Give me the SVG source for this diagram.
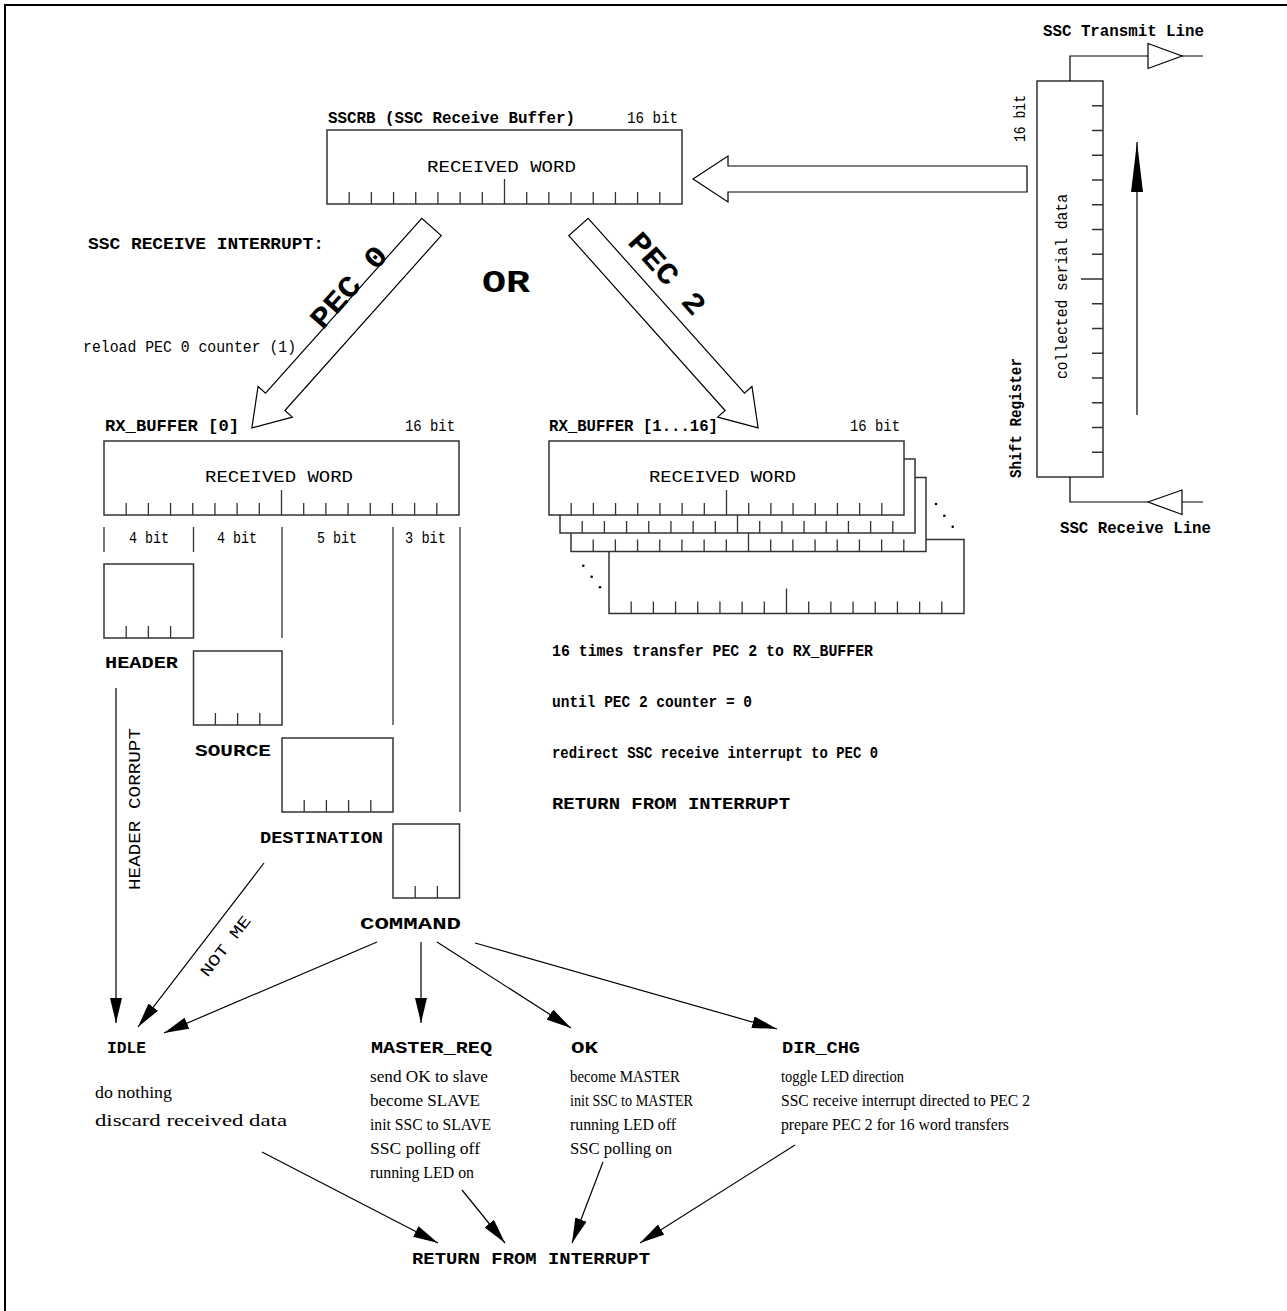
<svg xmlns="http://www.w3.org/2000/svg" width="1287" height="1311" viewBox="0 0 1287 1311">
<style>
.b{font-family:"Liberation Mono",monospace;font-weight:bold;font-size:17px;fill:#000}
.r{font-family:"Liberation Mono",monospace;font-size:16px;fill:#000}
.t{font-family:"Liberation Serif",serif;font-size:17px;fill:#000}
.box{fill:#fff;stroke:#333;stroke-width:1.5}
.tk{stroke:#333;stroke-width:1.3;fill:none}
.ln{stroke:#000;stroke-width:1.2;fill:none}
.ha{fill:#fff;stroke:#000;stroke-width:1.2}
</style>
<defs>
<marker id="ah" markerUnits="userSpaceOnUse" markerWidth="26" markerHeight="12" refX="25" refY="6" orient="auto"><path d="M0,0 L25,6 L0,12 z" fill="#000"/></marker>
<marker id="ah2" markerUnits="userSpaceOnUse" markerWidth="50" markerHeight="12" refX="50" refY="6" orient="auto"><path d="M0,0 L50,6 L0,12 z" fill="#000"/></marker>
<g id="reg">
<rect class="box" x="0" y="0" width="355" height="74"/>
<path class="tk" d="M22.19,74V62 M44.38,74V62 M66.56,74V62 M88.75,74V62 M110.94,74V62 M133.13,74V62 M155.31,74V62 M177.5,74V49 M199.69,74V62 M221.88,74V62 M244.06,74V62 M266.25,74V62 M288.44,74V62 M310.63,74V62 M332.81,74V62"/>
</g>
</defs>
<rect x="0" y="0" width="1287" height="1311" fill="#fff"/>
<g id="frame"><path d="M5,1311 V5 H1287" fill="none" stroke="#000" stroke-width="2"/></g>

<g id="sscrb">
<text class="b" x="328" y="123" textLength="247" lengthAdjust="spacingAndGlyphs">SSCRB (SSC Receive Buffer)</text>
<text class="r" x="627" y="123" textLength="51" lengthAdjust="spacingAndGlyphs">16 bit</text>
<use href="#reg" x="327" y="130"/>
<text class="r" x="427" y="172" textLength="149" lengthAdjust="spacingAndGlyphs">RECEIVED WORD</text>
</g>

<g id="shiftreg">
<rect class="box" x="1037" y="81" width="66" height="396"/>
<path class="tk" d="M1103,105.75H1092 M1103,130.5H1092 M1103,155.25H1092 M1103,180H1092 M1103,204.75H1092 M1103,229.5H1092 M1103,254.25H1092 M1103,279H1081 M1103,303.75H1092 M1103,328.5H1092 M1103,353.25H1092 M1103,378H1092 M1103,402.75H1092 M1103,427.5H1092 M1103,452.25H1092"/>
<text class="r" transform="translate(1025,142) rotate(-90)" textLength="47" lengthAdjust="spacingAndGlyphs">16 bit</text>
<text class="r" transform="translate(1067,379) rotate(-90)" textLength="185" lengthAdjust="spacingAndGlyphs">collected serial data</text>
<text class="b" transform="translate(1021,478) rotate(-90)" textLength="120" lengthAdjust="spacingAndGlyphs">Shift Register</text>
<path class="ln" d="M1070,81V56H1148 M1182,56H1203 M1070,477V502H1148 M1182,502H1203"/>
<path class="ln" d="M1148,43.5L1182,56L1148,68.5z M1148,502L1182,490L1182,514.5z"/>
<text class="b" x="1043" y="36" textLength="161" lengthAdjust="spacingAndGlyphs">SSC Transmit Line</text>
<text class="b" x="1060" y="533" textLength="151" lengthAdjust="spacingAndGlyphs">SSC Receive Line</text>
</g>

<g id="interrupt-label">
<text class="b" x="88" y="249" textLength="236" lengthAdjust="spacingAndGlyphs">SSC RECEIVE INTERRUPT:</text>
<text class="r" x="83" y="352" textLength="213" lengthAdjust="spacingAndGlyphs">reload PEC 0 counter (1)</text>
<text class="b" x="482" y="292" style="font-size:32px" textLength="48" lengthAdjust="spacingAndGlyphs">OR</text>
</g>

<g id="rxbuf0">
<text class="b" x="105" y="431" textLength="134" lengthAdjust="spacingAndGlyphs">RX_BUFFER [0]</text>
<text class="r" x="405" y="431" textLength="50" lengthAdjust="spacingAndGlyphs">16 bit</text>
<use href="#reg" x="104" y="441"/>
<text class="r" x="205" y="482" textLength="148" lengthAdjust="spacingAndGlyphs">RECEIVED WORD</text>
<path class="tk" d="M104,527V552 M193.5,527V552 M282,527V638 M393,527V725 M460,527V812"/>
<text class="r" x="129" y="543" textLength="40" lengthAdjust="spacingAndGlyphs">4 bit</text>
<text class="r" x="217" y="543" textLength="40" lengthAdjust="spacingAndGlyphs">4 bit</text>
<text class="r" x="317" y="543" textLength="40" lengthAdjust="spacingAndGlyphs">5 bit</text>
<text class="r" x="405" y="543" textLength="41" lengthAdjust="spacingAndGlyphs">3 bit</text>
</g>

<g id="header">
<rect class="box" x="104" y="564" width="89.5" height="74"/>
<path class="tk" d="M126.2,638V626 M148.4,638V626 M170.6,638V626"/>
<text class="b" x="105" y="668" textLength="73" lengthAdjust="spacingAndGlyphs">HEADER</text>
</g>
<g id="source">
<rect class="box" x="193.5" y="651" width="88.5" height="74"/>
<path class="tk" d="M215.4,725V713 M237.6,725V713 M259.8,725V713"/>
<text class="b" x="195" y="756" textLength="76" lengthAdjust="spacingAndGlyphs">SOURCE</text>
</g>
<g id="destination">
<rect class="box" x="282" y="738" width="111" height="74"/>
<path class="tk" d="M304.2,812V800 M326.4,812V800 M348.6,812V800 M370.8,812V800"/>
<text class="b" x="260" y="843" textLength="123" lengthAdjust="spacingAndGlyphs">DESTINATION</text>
</g>
<g id="command">
<rect class="box" x="393" y="824" width="66.5" height="74"/>
<path class="tk" d="M415.2,898V886 M437.4,898V886"/>
<text class="b" x="360" y="929" textLength="101" lengthAdjust="spacingAndGlyphs">COMMAND</text>
</g>

<g id="rxbuf116">
<text class="b" x="549" y="431" textLength="169" lengthAdjust="spacingAndGlyphs">RX_BUFFER [1...16]</text>
<text class="r" x="850" y="431" textLength="50" lengthAdjust="spacingAndGlyphs">16 bit</text>
<use href="#reg" x="609" y="539.5"/>
<use href="#reg" x="571" y="477.5"/>
<use href="#reg" x="560" y="459"/>
<use href="#reg" x="549" y="441"/>
<text class="r" x="649" y="482" textLength="147" lengthAdjust="spacingAndGlyphs">RECEIVED WORD</text>
<g fill="#000">
<circle cx="936" cy="504" r="1.3"/><circle cx="944.3" cy="515.7" r="1.3"/><circle cx="952.7" cy="526.7" r="1.3"/>
<circle cx="583.3" cy="565.7" r="1.3"/><circle cx="591.7" cy="576.7" r="1.3"/><circle cx="600" cy="587.3" r="1.3"/>
</g>
</g>

<g id="pec2-steps">
<text class="b" x="552" y="656" textLength="321" lengthAdjust="spacingAndGlyphs">16 times transfer PEC 2 to RX_BUFFER</text>
<text class="b" x="552" y="707" textLength="200" lengthAdjust="spacingAndGlyphs">until PEC 2 counter = 0</text>
<text class="b" x="552" y="758" textLength="326" lengthAdjust="spacingAndGlyphs">redirect SSC receive interrupt to PEC 0</text>
<text class="b" x="552" y="809" textLength="238" lengthAdjust="spacingAndGlyphs">RETURN FROM INTERRUPT</text>
</g>

<g id="idle">
<text class="b" x="107" y="1053" textLength="39" lengthAdjust="spacingAndGlyphs">IDLE</text>
<text class="t" x="95" y="1098" textLength="77" lengthAdjust="spacingAndGlyphs">do nothing</text>
<text class="t" x="95" y="1126" textLength="192" lengthAdjust="spacingAndGlyphs">discard received data</text>
</g>
<g id="master_req">
<text class="b" x="371" y="1053" textLength="121" lengthAdjust="spacingAndGlyphs">MASTER_REQ</text>
<text class="t" x="370" y="1082" textLength="118" lengthAdjust="spacingAndGlyphs">send OK to slave</text>
<text class="t" x="370" y="1106" textLength="110" lengthAdjust="spacingAndGlyphs">become SLAVE</text>
<text class="t" x="370" y="1130" textLength="121" lengthAdjust="spacingAndGlyphs">init SSC to SLAVE</text>
<text class="t" x="370" y="1154" textLength="110" lengthAdjust="spacingAndGlyphs">SSC polling off</text>
<text class="t" x="370" y="1178" textLength="104" lengthAdjust="spacingAndGlyphs">running LED on</text>
</g>
<g id="ok">
<text class="b" x="571" y="1053" textLength="27" lengthAdjust="spacingAndGlyphs">OK</text>
<text class="t" x="570" y="1082" textLength="110" lengthAdjust="spacingAndGlyphs">become MASTER</text>
<text class="t" x="570" y="1106" textLength="123" lengthAdjust="spacingAndGlyphs">init SSC to MASTER</text>
<text class="t" x="570" y="1130" textLength="106" lengthAdjust="spacingAndGlyphs">running LED off</text>
<text class="t" x="570" y="1154" textLength="102" lengthAdjust="spacingAndGlyphs">SSC polling on</text>
</g>
<g id="dir_chg">
<text class="b" x="782" y="1053" textLength="78" lengthAdjust="spacingAndGlyphs">DIR_CHG</text>
<text class="t" x="781" y="1082" textLength="123" lengthAdjust="spacingAndGlyphs">toggle LED direction</text>
<text class="t" x="781" y="1106" textLength="249" lengthAdjust="spacingAndGlyphs">SSC receive interrupt directed to PEC 2</text>
<text class="t" x="781" y="1130" textLength="228" lengthAdjust="spacingAndGlyphs">prepare PEC 2 for 16 word transfers</text>
</g>
<g id="return">
<text class="b" x="412" y="1264" textLength="238" lengthAdjust="spacingAndGlyphs">RETURN FROM INTERRUPT</text>
</g>

<g id="connectors">
<polygon class="ha" transform="translate(1027,179) rotate(180)" points="0,-13 299,-13 299,-23 334,0 299,23 299,13 0,13"/>
<polygon class="ha" transform="translate(431.5,227) rotate(131.8)" points="0,-13 234.5,-13 234.5,-23 269.5,0 234.5,23 234.5,13 0,13"/>
<polygon class="ha" transform="translate(578.5,227) rotate(48.2)" points="0,-13 234.5,-13 234.5,-23 269.5,0 234.5,23 234.5,13 0,13"/>
<text class="b" transform="translate(356,293.5) rotate(-48.2)" text-anchor="middle" style="font-size:30px" textLength="100" lengthAdjust="spacingAndGlyphs">PEC 0</text>
<text class="b" transform="translate(660,280) rotate(48.2)" text-anchor="middle" style="font-size:30px" textLength="100" lengthAdjust="spacingAndGlyphs">PEC 2</text>
<path class="ln" d="M1137,415V142" marker-end="url(#ah2)"/>
<path class="ln" d="M116,688V1023" marker-end="url(#ah)"/>
<text class="r" transform="translate(140,890) rotate(-90)" textLength="162" lengthAdjust="spacingAndGlyphs">HEADER CORRUPT</text>
<path class="ln" d="M264,863L138,1027" marker-end="url(#ah)"/>
<text class="r" transform="translate(229.5,949.3) rotate(-52.36)" text-anchor="middle" textLength="72" lengthAdjust="spacingAndGlyphs">NOT ME</text>
<path class="ln" d="M377,942L164,1033" marker-end="url(#ah)"/>
<path class="ln" d="M421,942V1023" marker-end="url(#ah)"/>
<path class="ln" d="M437,942L571,1028" marker-end="url(#ah)"/>
<path class="ln" d="M475,943L777,1029" marker-end="url(#ah)"/>
<path class="ln" d="M262,1152L438,1243" marker-end="url(#ah)"/>
<path class="ln" d="M462,1190L505,1243" marker-end="url(#ah)"/>
<path class="ln" d="M603,1162L572,1243" marker-end="url(#ah)"/>
<path class="ln" d="M795,1145L640,1243" marker-end="url(#ah)"/>
</g>
</svg>
